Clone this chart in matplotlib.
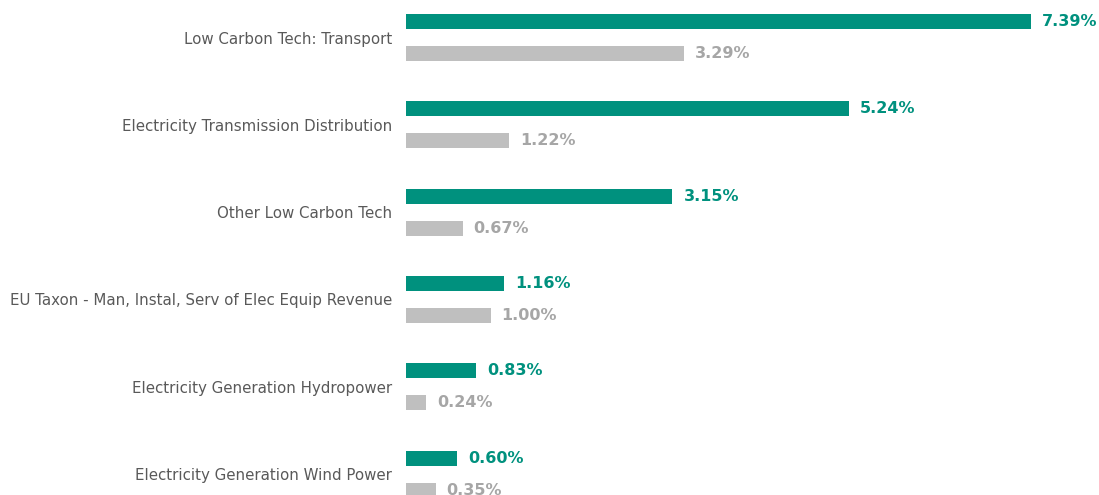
import numpy as np
import matplotlib.pyplot as plt

categories = ['Low Carbon Tech: Transport',
              'Electricity Transmission Distribution',
              'Other Low Carbon Tech',
              'EU Taxon - Man, Instal, Serv of Elec Equip Revenue',
              'Electricity Generation Hydropower',
              'Electricity Generation Wind Power']
fund = [7.39, 5.24, 3.15, 1.16, 0.83, 0.60]
benchmark = [3.29, 1.22, 0.67, 1.00, 0.24, 0.35]

teal = '#00917E'
grey = '#BFBFBF'

fig = plt.figure(figsize=(10.99, 4.95), dpi=100)
ax = fig.add_axes([406 / 1099, 0, 693 / 1099, 1])

y = np.arange(len(categories))
h = 0.172
off = 0.183
ax.barh(y - off, fund, height=h, color=teal)
ax.barh(y + off, benchmark, height=h, color=grey)

# étiquettes de valeur
for yi, v in zip(y, fund):
    ax.text(v + 0.13, yi - off, f'{v:.2f}%', va='center', ha='left',
            fontsize=11.5, fontweight='bold', color=teal)
for yi, v in zip(y, benchmark):
    ax.text(v + 0.13, yi + off, f'{v:.2f}%', va='center', ha='left',
            fontsize=11.5, fontweight='bold', color='#A6A6A6')

ax.set_xlim(0, 693 / 84.6)
ax.set_ylim(5.24, -0.43)
ax.set_yticks(y)
ax.set_yticklabels(categories, fontsize=10.85, color='#595959')
ax.tick_params(axis='y', length=0, pad=10)
ax.set_xticks([])
for s in ax.spines.values():
    s.set_visible(False)

fig.savefig('out.png', dpi=100)
